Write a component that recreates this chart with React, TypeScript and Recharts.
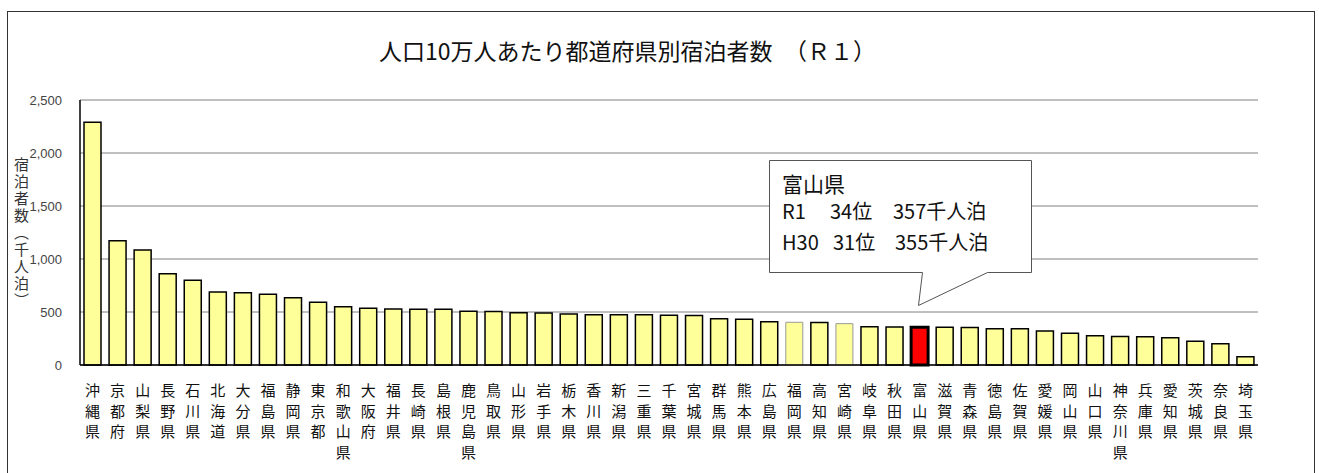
import { Bar, BarChart, CartesianGrid, Cell, XAxis, YAxis } from "recharts";

const prefectures = [
  "沖縄県", "京都府", "山梨県", "長野県", "石川県", "北海道", "大分県", "福島県",
  "静岡県", "東京都", "和歌山県", "大阪府", "福井県", "長崎県", "島根県", "鹿児島県",
  "鳥取県", "山形県", "岩手県", "栃木県", "香川県", "新潟県", "三重県", "千葉県",
  "宮城県", "群馬県", "熊本県", "広島県", "福岡県", "高知県", "宮崎県", "岐阜県",
  "秋田県", "富山県", "滋賀県", "青森県", "徳島県", "佐賀県", "愛媛県", "岡山県",
  "山口県", "神奈川県", "兵庫県", "愛知県", "茨城県", "奈良県", "埼玉県",
];

// 人口10万人あたり宿泊者数（千人泊）
const stays = [
  2290, 1173, 1085, 861, 799, 689, 682, 667,
  635, 591, 550, 535, 528, 527, 527, 506,
  505, 494, 490, 481, 475, 474, 473, 469,
  468, 437, 431, 408, 403, 402, 390, 361,
  358, 357, 356, 354, 343, 342, 321, 299,
  277, 268, 266, 258, 223, 201, 78,
];

const yTicks = [0, 500, 1000, 1500, 2000, 2500];

const highlight = "富山県";
const paleBorder = ["福岡県", "宮崎県"];

const data = prefectures.map((name, i) => ({ name, value: stays[i] }));

function VerticalTick(props: any) {
  const { x, y, payload } = props;
  const chars = String(payload.value).split("");
  return (
    <text
      x={x}
      y={y}
      textAnchor="middle"
      fontSize={15}
      fill="#111"
      fontFamily="'Noto Sans CJK JP', sans-serif"
    >
      {chars.map((c, i) => (
        <tspan key={i} x={x} dy={i === 0 ? 29 : 20.5}>
          {c}
        </tspan>
      ))}
    </text>
  );
}

export default function App() {
  return (
    <div
      style={{
        position: "absolute",
        left: 7,
        top: 11,
        width: 1308,
        height: 462,
        boxSizing: "border-box",
        borderTop: "1px solid #333",
        borderLeft: "1px solid #333",
        borderRight: "1px solid #333",
        background: "#fff",
        overflow: "hidden",
        fontFamily: "'Noto Sans CJK JP', sans-serif",
      }}
    >
      <div
        style={{
          position: "absolute",
          left: 371,
          top: 24,
          fontSize: 23,
          lineHeight: "28px",
          color: "#111",
          whiteSpace: "pre",
        }}
      >
        人口10万人あたり都道府県別宿泊者数　（Ｒ１）
      </div>
      <BarChart
        width={1306}
        height={460}
        data={data}
        margin={{ top: 88, right: 56, bottom: 7, left: 0 }}
      >
        <CartesianGrid vertical={false} stroke="#808080" yAxisId="left" />
        <XAxis
          dataKey="name"
          interval={0}
          height={100}
          tick={<VerticalTick />}
          tickLine={false}
          tickSize={0}
          axisLine={{ stroke: "#000", strokeWidth: 1.5 }}
        />
        <YAxis
          yAxisId="left"
          width={72}
          domain={[0, 2500]}
          ticks={yTicks}
          tickFormatter={(v: number) => v.toLocaleString("en-US")}
          tickLine={false}
          tickSize={0}
          tickMargin={18}
          axisLine={{ stroke: "#000", strokeWidth: 1.5 }}
          tick={{ fontSize: 13, fill: "#444", fontFamily: "'Liberation Sans', sans-serif" }}
        />
        <YAxis
          yAxisId="right"
          orientation="right"
          width={0}
          domain={[0, 2500]}
          tick={false}
          tickLine={false}
          axisLine={{ stroke: "#999", strokeWidth: 2 }}
        />
        <Bar
          yAxisId="left"
          dataKey="value"
          barSize={17}
          fill="#ffff99"
          stroke="#000"
          strokeWidth={1.5}
          isAnimationActive={false}
        >
          {data.map((d) => (
            <Cell
              key={d.name}
              fill={d.name === highlight ? "#ff0000" : "#ffff99"}
              stroke={paleBorder.includes(d.name) ? "#999" : "#000"}
              strokeWidth={d.name === highlight ? 3 : paleBorder.includes(d.name) ? 1 : 1.5}
            />
          ))}
        </Bar>
      </BarChart>
      <div
        style={{
          position: "absolute",
          left: 5,
          top: 145,
          writingMode: "vertical-rl",
          fontSize: 15,
          lineHeight: "16px",
          letterSpacing: 2,
          color: "#333",
        }}
      >
        宿泊者数（千人泊）
      </div>
      <svg
        width={300}
        height={170}
        style={{ position: "absolute", left: 752, top: 140 }}
      >
        <path
          d="M9.5 8.5 H271.5 V120.5 H227.5 L158.5 153.5 L162.5 120.5 H9.5 Z"
          fill="#fff"
          stroke="#555"
          strokeWidth={1}
        />
        <text x={22} y={40} fontSize={21} fill="#111">
          富山県
        </text>
        <text fontSize={20} fill="#111">
          <tspan x={22} y={67}>R1</tspan>
          <tspan x={70} y={67}>34位</tspan>
          <tspan x={133} y={67}>357千人泊</tspan>
        </text>
        <text fontSize={20} fill="#111">
          <tspan x={22} y={98}>H30</tspan>
          <tspan x={73} y={98}>31位</tspan>
          <tspan x={135} y={98}>355千人泊</tspan>
        </text>
      </svg>
    </div>
  );
}
